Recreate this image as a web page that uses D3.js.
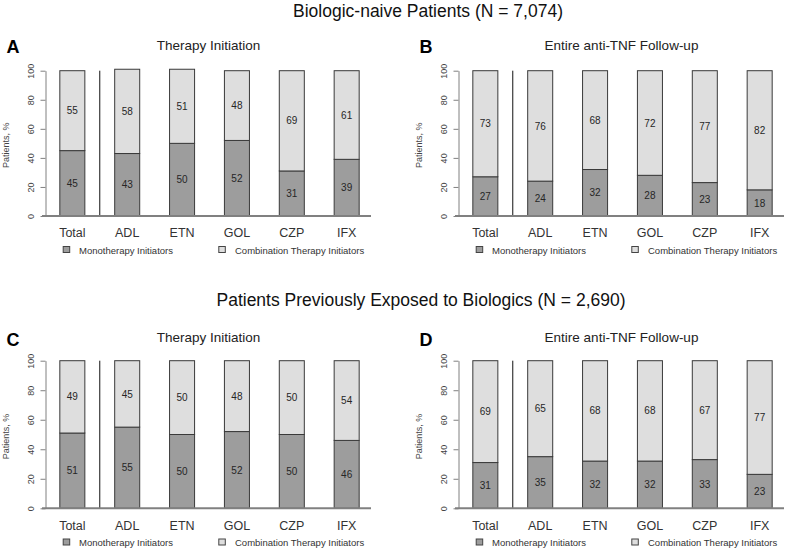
<!DOCTYPE html>
<html>
<head>
<meta charset="utf-8">
<script src="https://cdn.jsdelivr.net/npm/d3@7"></script>
<style>
  html, body { margin: 0; padding: 0; background: #fff; }
  svg { display: block; font-family: "Liberation Sans", Arial, sans-serif; }
</style>
</head>
<body>
<svg id="chart" width="787" height="550"></svg>
<script>
// ---- Data ----
const categories = ["Total", "ADL", "ETN", "GOL", "CZP", "IFX"];
const monoA  = [45, 43, 50, 52, 31, 39];
const comboA = [55, 58, 51, 48, 69, 61];
const monoB  = [27, 24, 32, 28, 23, 18];
const comboB = [73, 76, 68, 72, 77, 82];
const monoC  = [51, 55, 50, 52, 50, 46];
const comboC = [49, 45, 50, 48, 50, 54];
const monoD  = [31, 35, 32, 32, 33, 23];
const comboD = [69, 65, 68, 68, 67, 77];
const yTicks = [0, 20, 40, 60, 80, 100];
const seriesNames = ["Monotherapy Initiators", "Combination Therapy Initiators"];
const sectionTitles = ["Biologic-naive Patients (N = 7,074)", "Patients Previously Exposed to Biologics (N = 2,690)"];
const panelLetters = ["A", "B", "C", "D"];
const panelTitles = ["Therapy Initiation", "Entire anti-TNF Follow-up", "Therapy Initiation", "Entire anti-TNF Follow-up"];
const yLabel = "Patients, %";

// ---- Styles ----
const monoFill = "#9d9d9d";
const comboFill = "#dedede";
const barStroke = "#3a3a3a";
const axisColor = "#808080";
const textColor = "#262626";

const svg = d3.select("#chart");

// Section titles
const sectionLayout = [{x: 428, y: 17}, {x: 421, y: 306}];
sectionTitles.forEach((t, i) => {
  svg.append("text")
    .attr("x", sectionLayout[i].x).attr("y", sectionLayout[i].y)
    .attr("text-anchor", "middle")
    .attr("font-size", 17.5)
    .attr("fill", "#111")
    .text(t);
});

const rows = [
  {y0: 216, y100: 70.7, titleY: 49.5, letterY: 52.5, catY: 237.3, legY: 253.5},
  {y0: 508.3, y100: 360.7, titleY: 342.4, letterY: 345.5, catY: 530, legY: 546}
];
const cols = [0, 413];

const panels = [
  {mono: monoA, combo: comboA},
  {mono: monoB, combo: comboB},
  {mono: monoC, combo: comboC},
  {mono: monoD, combo: comboD}
];

panels.forEach((p, i) => {
  const row = rows[Math.floor(i / 2)];
  const ox = cols[i % 2];
  const g = svg.append("g").attr("transform", `translate(${ox},0)`);

  const x = d3.scaleBand()
    .domain(categories)
    .range([44.4, 373.6])
    .paddingInner(0.544)
    .paddingOuter(0.272);
  const y = d3.scaleLinear().domain([0, 100]).range([row.y0, row.y100]);

  const table = categories.map((c, k) => ({cat: c, mono: p.mono[k], combo: p.combo[k]}));
  const stacked = d3.stack().keys(["mono", "combo"])(table);
  const fills = [monoFill, comboFill];

  stacked.forEach((layer, li) => {
    g.append("g").selectAll("rect")
      .data(layer)
      .join("rect")
      .attr("x", d => x(d.data.cat) + 0.5)
      .attr("y", d => y(d[1]))
      .attr("width", x.bandwidth())
      .attr("height", d => y(d[0]) - y(d[1]))
      .attr("fill", fills[li])
      .attr("stroke", barStroke)
      .attr("stroke-width", 1);
    g.append("g").selectAll("text")
      .data(layer)
      .join("text")
      .attr("x", d => x(d.data.cat) + x.bandwidth() / 2 + 0.5)
      .attr("y", d => y((d[0] + d[1]) / 2))
      .attr("dy", "0.36em")
      .attr("text-anchor", "middle")
      .attr("font-size", 10)
      .attr("fill", textColor)
      .text(d => d[1] - d[0]);
  });

  // separator line between Total and drugs
  const sepX = (x("Total") + x.bandwidth() + x("ADL")) / 2 + 0.5;
  g.append("line")
    .attr("x1", sepX).attr("x2", sepX)
    .attr("y1", y(100)).attr("y2", y(0))
    .attr("stroke", "#111").attr("stroke-width", 1);

  // baseline
  g.append("line")
    .attr("x1", 42).attr("x2", 371)
    .attr("y1", y(0)).attr("y2", y(0))
    .attr("stroke", axisColor).attr("stroke-width", 2);

  // y axis
  const yAxis = d3.axisLeft(y).tickValues(yTicks).tickSize(5).tickSizeOuter(0).tickPadding(0);
  const ax = g.append("g").attr("transform", "translate(45.5,0)").call(yAxis);
  ax.select(".domain").attr("stroke", axisColor);
  ax.selectAll(".tick line").attr("stroke", axisColor);
  ax.selectAll(".tick text")
    .attr("font-size", 9)
    .attr("font-family", "Liberation Sans, Arial, sans-serif")
    .attr("fill", "#444")
    .attr("x", null).attr("dy", null)
    .attr("text-anchor", "middle")
    .attr("transform", "translate(-12,0) rotate(-90)");

  // y label
  g.append("text")
    .attr("transform", `translate(9,${(row.y0 + row.y100) / 2 + 2}) rotate(-90)`)
    .attr("text-anchor", "middle")
    .attr("font-size", 9)
    .attr("fill", "#444")
    .text(yLabel);

  // category labels
  g.append("g").selectAll("text")
    .data(categories)
    .join("text")
    .attr("x", d => x(d) + x.bandwidth() / 2 + 0.5)
    .attr("y", row.catY)
    .attr("text-anchor", "middle")
    .attr("font-size", 12.5)
    .attr("fill", "#333")
    .text(d => d);

  // panel title
  g.append("text")
    .attr("x", 208.5).attr("y", row.titleY)
    .attr("text-anchor", "middle")
    .attr("font-size", 13.5)
    .attr("fill", "#222")
    .text(panelTitles[i]);

  // panel letter
  g.append("text")
    .attr("x", 6.5).attr("y", row.letterY)
    .attr("font-size", 18)
    .attr("font-weight", "bold")
    .attr("fill", "#000")
    .text(panelLetters[i]);

  // legend
  const legX = [{sq: 62.7, tx: 79}, {sq: 218.3, tx: 235}];
  seriesNames.forEach((s, k) => {
    g.append("rect")
      .attr("x", legX[k].sq + 0.5).attr("y", row.legY - 7)
      .attr("width", 6.5).attr("height", 6)
      .attr("fill", fills[k]).attr("stroke", "#444").attr("stroke-width", 1);
    g.append("text")
      .attr("x", legX[k].tx).attr("y", row.legY)
      .attr("font-size", 9.5)
      .attr("fill", "#333")
      .text(s);
  });
});
</script>
</body>
</html>
